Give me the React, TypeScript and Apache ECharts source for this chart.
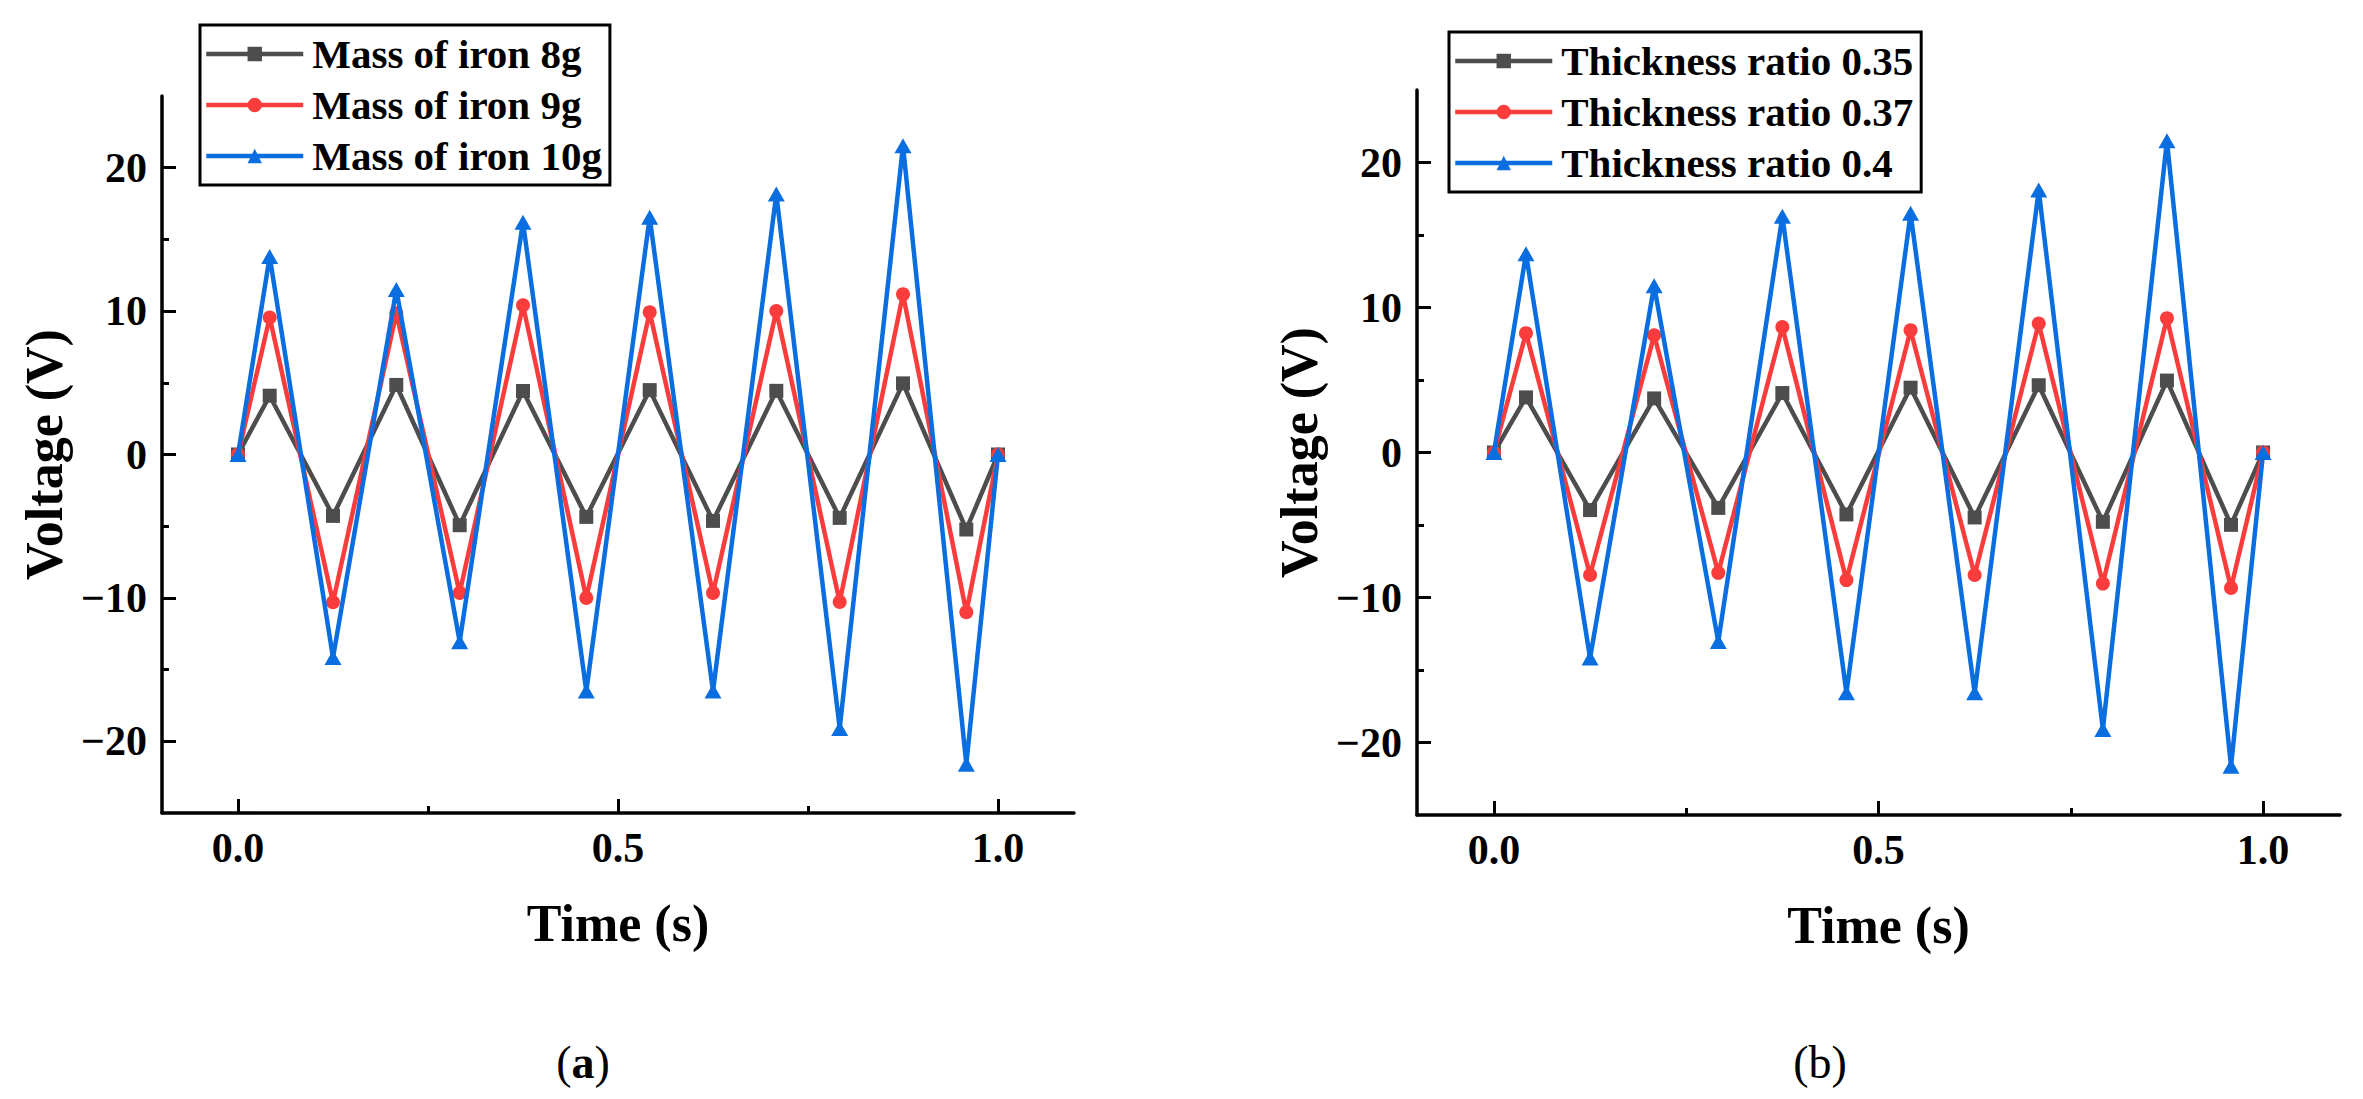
import { useEffect, useRef } from 'react';
import * as echarts from 'echarts';

// sample times (s), shared by both panels
const times = [0, 0.0417, 0.125, 0.2083, 0.2917, 0.375, 0.4583, 0.5417, 0.625, 0.7083, 0.7917, 0.875, 0.9583, 1.0];

// panel (a): mass of iron
const iron8g = [0, 4.1, -4.28, 4.85, -4.93, 4.43, -4.35, 4.49, -4.63, 4.44, -4.42, 4.96, -5.23, 0];
const iron9g = [0, 9.55, -10.3, 9.85, -9.65, 10.4, -10.0, 9.92, -9.65, 10.0, -10.28, 11.17, -11.0, 0];
const iron10g = [0, 13.8, -14.16, 11.5, -13.05, 16.2, -16.5, 16.55, -16.5, 18.16, -19.1, 21.53, -21.6, 0];

// panel (b): thickness ratio
const ratio035 = [0, 3.8, -3.97, 3.73, -3.82, 4.1, -4.27, 4.47, -4.48, 4.64, -4.78, 4.96, -4.99, 0];
const ratio037 = [0, 8.23, -8.45, 8.08, -8.3, 8.65, -8.8, 8.43, -8.45, 8.9, -9.04, 9.26, -9.34, 0];
const ratio04 = [0, 13.7, -14.18, 11.5, -13.04, 16.3, -16.57, 16.5, -16.57, 18.1, -19.1, 21.5, -21.64, 0];

const namesA = ['Mass of iron 8g', 'Mass of iron 9g', 'Mass of iron 10g'];
const namesB = ['Thickness ratio 0.35', 'Thickness ratio 0.37', 'Thickness ratio 0.4'];

const xTicks = [0, 0.5, 1.0];
const xMinorTicks = [0.25, 0.75];
const yTicks = [-20, -10, 0, 10, 20];
const yMinorTicks = [-15, -5, 5, 15];

const COLORS = ['#4d4d4d', '#fa3c3c', '#0a6ee0'];
const SYMBOLS = ['rect', 'circle', 'triangle'];
const SIZES: any[] = [14, 14, [17, 15]];
const FONT = '"Liberation Serif", "Times New Roman", serif';

function fmtY(v: number) {
  return v < 0 ? '\u2212' + Math.abs(v) : String(v);
}

function mainX(gridIndex: number) {
  return {
    type: 'value',
    gridIndex,
    position: 'bottom',
    min: -0.1,
    max: 1.1,
    name: 'Time (s)',
    nameLocation: 'middle',
    nameGap: 84,
    nameTextStyle: { fontFamily: FONT, fontWeight: 'bold', fontSize: 52, color: '#000' },
    axisLine: { onZero: false, lineStyle: { color: '#000', width: 3.5 } },
    axisTick: { inside: true, length: 14, lineStyle: { width: 3 }, customValues: xTicks },
    axisLabel: {
      customValues: xTicks,
      margin: 14,
      fontFamily: FONT,
      fontWeight: 'bold',
      fontSize: 42,
      color: '#000',
      formatter: (v: number) => v.toFixed(1),
    },
    splitLine: { show: false },
  };
}

function minorX(gridIndex: number) {
  return {
    type: 'value',
    gridIndex,
    position: 'bottom',
    min: -0.1,
    max: 1.1,
    axisLine: { show: false, onZero: false },
    axisTick: { inside: true, length: 7, lineStyle: { width: 3, color: '#000' }, customValues: xMinorTicks },
    axisLabel: { show: false },
    splitLine: { show: false },
  };
}

function mainY(gridIndex: number) {
  return {
    type: 'value',
    gridIndex,
    position: 'left',
    min: -25,
    max: 25,
    name: 'Voltage (V)',
    nameLocation: 'middle',
    nameGap: 92,
    nameTextStyle: { fontFamily: FONT, fontWeight: 'bold', fontSize: 52, color: '#000' },
    axisLine: { show: true, onZero: false, lineStyle: { color: '#000', width: 3.5 } },
    axisTick: { show: true, inside: true, length: 14, lineStyle: { width: 3 }, customValues: yTicks },
    axisLabel: {
      customValues: yTicks,
      margin: 15,
      fontFamily: FONT,
      fontWeight: 'bold',
      fontSize: 42,
      color: '#000',
      formatter: fmtY,
    },
    splitLine: { show: false },
  };
}

function minorY(gridIndex: number) {
  return {
    type: 'value',
    gridIndex,
    position: 'left',
    min: -25,
    max: 25,
    axisLine: { show: false, onZero: false },
    axisTick: { show: true, inside: true, length: 7, lineStyle: { width: 3, color: '#000' }, customValues: yMinorTicks },
    axisLabel: { show: false },
    splitLine: { show: false },
  };
}

function makeSeries(names: string[], values: number[][], axisIndex: number) {
  return names.map((name, i) => ({
    name,
    type: 'line',
    xAxisIndex: axisIndex,
    yAxisIndex: axisIndex,
    data: times.map((t, k) => [t, values[i][k]]),
    symbol: SYMBOLS[i],
    symbolSize: SIZES[i],
    showAllSymbol: true,
    z: 2 + i,
    lineStyle: { color: COLORS[i], width: 4.5 },
    itemStyle: { color: COLORS[i] },
  }));
}

function makeLegend(names: string[], left: number, top: number) {
  return {
    data: names,
    orient: 'vertical',
    left,
    top,
    borderColor: '#000',
    borderWidth: 3,
    padding: [4, 8, 4, 4],
    itemWidth: 97,
    itemHeight: 18,
    itemGap: 1,
    selectedMode: false,
    lineStyle: { width: 4.5 },
    textStyle: {
      fontFamily: FONT,
      fontWeight: 'bold',
      fontSize: 41,
      color: '#000',
      lineHeight: 50,
      padding: [0, 0, 0, 4],
    },
  };
}

export default function App() {
  const ref = useRef<HTMLDivElement>(null);

  useEffect(() => {
    if (!ref.current) return;
    const chart = echarts.init(ref.current, undefined, { renderer: 'svg' });

    const panelLabel = (x: number, letter: string, bold: boolean) => ({
      type: 'text',
      x,
      y: 1062,
      style: {
        text: '(' + '{l|' + letter + '}' + ')',
        fontFamily: FONT,
        fontSize: 46,
        fill: '#000',
        align: 'center',
        verticalAlign: 'middle',
        rich: { l: { fontFamily: FONT, fontSize: 46, fontWeight: bold ? 'bold' : 'normal', fill: '#000' } },
      },
    });

    const option: any = {
      animation: false,
      backgroundColor: '#fff',
      grid: [
        { left: 162, top: 96, width: 912, height: 717 },
        { left: 1417, top: 90, width: 923, height: 725 },
      ],
      xAxis: [mainX(0), minorX(0), mainX(1), minorX(1)],
      yAxis: [mainY(0), minorY(0), mainY(1), minorY(1)],
      legend: [makeLegend(namesA, 200, 25), makeLegend(namesB, 1449, 32)],
      series: [
        ...makeSeries(namesA, [iron8g, iron9g, iron10g], 0),
        ...makeSeries(namesB, [ratio035, ratio037, ratio04], 2),
      ],
      graphic: [panelLabel(583, 'a', true), panelLabel(1820, 'b', false)],
    };

    chart.setOption(option);
    return () => {
      chart.dispose();
    };
  }, []);

  return (
    <div
      ref={ref}
      style={{ position: 'absolute', left: 0, top: 0, width: 2363, height: 1099, background: '#fff' }}
    />
  );
}
